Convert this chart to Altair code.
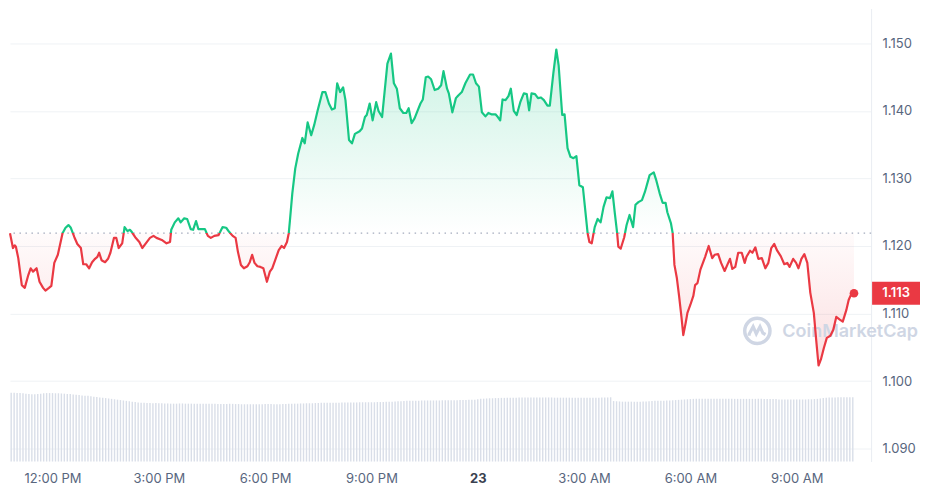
import altair as alt
import pandas as pd

# ---------------- data ----------------
# minutes after 10:48 AM on the 22nd
TIME_MIN = [
    0, 5, 8, 10, 14, 20, 25, 31, 35, 39, 45, 50, 56, 60, 66, 70, 75, 81, 89, 94,
    99, 103, 109, 114, 120, 124, 129, 134, 139, 144, 148, 151, 155, 161, 166, 170, 176, 180, 184, 190,
    194, 199, 203, 206, 212, 219, 224, 230, 237,
    243, 248, 257, 265, 271, 273, 279, 285, 289, 295, 300, 306, 310, 315, 319, 324, 330, 335, 340, 346,
    353, 360, 366, 371, 377, 382, 386, 391, 396, 402, 406, 410, 414, 419, 424, 429, 432, 435, 440, 444,
    449, 455, 460, 464, 469, 472,
    474, 478, 483, 488, 495, 499, 504, 510, 515, 521, 529, 534, 540, 545, 550, 554, 559, 564, 568, 574,
    579, 584, 592, 596, 601, 604, 609, 614, 620, 624, 630, 635, 639, 645, 650, 655, 660, 666, 671, 675,
    680, 685, 690, 695, 699, 704,
    708, 713, 719, 725, 730, 734, 740, 743, 749, 755, 759, 765, 771, 779, 784, 789, 794, 799, 805, 810,
    815, 822, 826, 830, 834, 839, 844, 848, 853, 858, 864, 870, 875, 879, 883, 889, 894, 899, 904, 910,
    914, 920, 925, 929, 935, 939, 944, 949, 954, 959, 964, 970,
    974, 978, 981, 985, 990, 995, 1000, 1005, 1010, 1016, 1020, 1024, 1028, 1030, 1034, 1040, 1044, 1049, 1055, 1059,
    1064, 1070, 1075, 1083, 1090, 1094, 1100, 1105, 1110, 1113, 1119, 1122, 1125, 1129, 1133, 1137, 1140, 1144, 1147, 1152,
    1157, 1160, 1164,
    1169, 1177, 1183, 1189, 1193, 1199, 1204, 1210, 1216, 1219, 1223, 1228, 1233, 1239, 1244, 1247, 1253, 1257, 1262, 1267,
    1273, 1279, 1284, 1289, 1294, 1299, 1305, 1311, 1316, 1320, 1326, 1331, 1335, 1340, 1345, 1350, 1355, 1361, 1365, 1369,
    1373, 1378, 1383, 1389, 1394, 1399, 1405, 1410, 1416, 1420, 1424, 1429,
]
PRICE = [
    1.1219, 1.1197, 1.1201, 1.1199, 1.1182, 1.1142, 1.1138, 1.1157, 1.1167, 1.1162, 1.1167, 1.1147, 1.1138, 1.1134, 1.1138, 1.1141, 1.1175, 1.1187, 1.1219, 1.1227,
    1.1231, 1.1227, 1.1213, 1.1203, 1.1197, 1.1173, 1.1173, 1.1167, 1.1176, 1.1181, 1.1184, 1.1190, 1.1179, 1.1176, 1.1181, 1.1190, 1.1212, 1.1212, 1.1197, 1.1204,
    1.1228, 1.1222, 1.1224, 1.1221, 1.1213, 1.1206, 1.1197, 1.1204, 1.1212,
    1.1215, 1.1212, 1.1209, 1.1204, 1.1206, 1.1224, 1.1235, 1.1241, 1.1235, 1.1241, 1.1240, 1.1225, 1.1224, 1.1237, 1.1225, 1.1225, 1.1225, 1.1215, 1.1212, 1.1215,
    1.1216, 1.1228, 1.1227, 1.1221, 1.1215, 1.1212, 1.1191, 1.1172, 1.1167, 1.1170, 1.1176, 1.1187, 1.1175, 1.1170, 1.1169, 1.1167, 1.1157, 1.1147, 1.1162, 1.1167,
    1.1179, 1.1194, 1.1200, 1.1197, 1.1206, 1.1219,
    1.1238, 1.1278, 1.1315, 1.1337, 1.1360, 1.1352, 1.1383, 1.1364, 1.1379, 1.1401, 1.1428, 1.1428, 1.1411, 1.1402, 1.1404, 1.1441, 1.1428, 1.1435, 1.1416, 1.1357,
    1.1352, 1.1366, 1.1370, 1.1374, 1.1391, 1.1394, 1.1411, 1.1386, 1.1413, 1.1400, 1.1391, 1.1435, 1.1470, 1.1485, 1.1441, 1.1433, 1.1404, 1.1397, 1.1397, 1.1404,
    1.1382, 1.1389, 1.1400, 1.1411, 1.1417, 1.1450,
    1.1451, 1.1447, 1.1431, 1.1433, 1.1438, 1.1459, 1.1433, 1.1426, 1.1398, 1.1419, 1.1423, 1.1428, 1.1441, 1.1454, 1.1454, 1.1441, 1.1436, 1.1398, 1.1392, 1.1397,
    1.1395, 1.1395, 1.1391, 1.1386, 1.1417, 1.1416, 1.1422, 1.1433, 1.1400, 1.1394, 1.1413, 1.1426, 1.1425, 1.1401, 1.1426, 1.1425, 1.1419, 1.1420, 1.1416, 1.1408,
    1.1408, 1.1456, 1.1491, 1.1467, 1.1394, 1.1395, 1.1345, 1.1332, 1.1330, 1.1333, 1.1290, 1.1287,
    1.1253, 1.1219, 1.1206, 1.1204, 1.1228, 1.1240, 1.1235, 1.1258, 1.1272, 1.1271, 1.1281, 1.1249, 1.1219, 1.1199, 1.1196, 1.1213, 1.1231, 1.1246, 1.1228, 1.1261,
    1.1265, 1.1268, 1.1280, 1.1305, 1.1309, 1.1298, 1.1278, 1.1264, 1.1264, 1.1250, 1.1234, 1.1219, 1.1172, 1.1153, 1.1125, 1.1094, 1.1068, 1.1086, 1.1101, 1.1113,
    1.1126, 1.1142, 1.1145,
    1.1165, 1.1184, 1.1200, 1.1182, 1.1187, 1.1188, 1.1175, 1.1163, 1.1175, 1.1181, 1.1166, 1.1169, 1.1190, 1.1190, 1.1175, 1.1184, 1.1193, 1.1190, 1.1198, 1.1181,
    1.1182, 1.1167, 1.1175, 1.1197, 1.1203, 1.1193, 1.1185, 1.1173, 1.1175, 1.1169, 1.1181, 1.1175, 1.1167, 1.1181, 1.1188, 1.1175, 1.1131, 1.1101, 1.1061, 1.1023,
    1.1032, 1.1049, 1.1064, 1.1067, 1.1076, 1.1095, 1.1091, 1.1088, 1.1105, 1.1120, 1.1128, 1.1130,
]
# 24h volume (millions), one bar every 5 minutes from 10:50 AM
VOLUME_M = [
    34.5, 34.5, 34.4, 34.3, 34.2, 34.0,
    33.8, 33.7, 33.7, 33.8, 34.0, 34.2,
    34.3, 34.3, 34.3, 34.2, 34.2, 34.1, 34.0, 33.9,
    33.8, 33.6, 33.5, 33.3, 33.1, 33.0, 32.9, 32.7, 32.5, 32.3, 32.1, 31.9, 31.8, 31.6, 31.4, 31.2,
    31.0, 30.8, 30.6, 30.4, 30.2, 30.0, 29.8, 29.6, 29.5, 29.4, 29.3,
    29.3, 29.2, 29.3, 29.2, 29.2, 29.1, 29.1, 29.0, 29.0, 29.0, 29.1, 29.1, 29.0, 29.0, 29.0, 28.9,
    28.9, 28.9, 29.0, 28.9, 28.9, 28.9,
    28.9, 28.8, 28.8, 28.8, 28.8, 28.9, 28.9, 28.8, 28.8, 28.7, 28.7, 28.7, 28.7, 28.7, 28.7, 28.7,
    28.7, 28.8, 28.8, 28.8, 28.7, 28.7, 28.7, 28.8, 28.8, 28.9, 28.9, 29.0, 29.0,
    29.1, 29.1, 29.2, 29.2, 29.2, 29.3, 29.3,
    29.4, 29.4, 29.4, 29.5, 29.5, 29.5, 29.5, 29.6, 29.6, 29.6, 29.6, 29.6, 29.6, 29.7, 29.7, 29.7,
    29.7, 29.7, 29.7, 29.8, 29.8, 29.8, 29.9,
    30.0, 30.0, 30.1, 30.2, 30.2,
    30.3, 30.4, 30.5, 30.5, 30.5, 30.5, 30.6, 30.6, 30.6, 30.6, 30.6, 30.6, 30.6, 30.7, 30.7, 30.7,
    30.7, 30.7, 30.7, 30.8, 30.8, 30.8, 30.9, 30.9, 31.0,
    31.2, 31.4, 31.5, 31.6, 31.7, 31.7, 31.8, 31.8, 31.9, 31.9,
    32.0, 32.0, 32.0, 32.0, 32.1, 32.1, 32.1, 32.1, 32.1, 32.1, 32.1, 32.1, 32.1, 32.1, 32.1, 32.1,
    32.0, 32.0, 32.0, 32.0, 32.0, 32.0, 31.9, 31.9, 31.9, 31.9, 31.9, 31.9, 32.0, 32.0, 32.0, 32.0,
    32.1, 32.1, 32.1, 32.2,
    30.3, 30.2, 30.1, 30.0, 30.0, 30.0, 30.0, 30.0, 30.0, 30.0, 30.1, 30.1, 30.2, 30.3,
    30.4, 30.5, 30.5, 30.5, 30.6, 30.6, 30.7, 30.8, 30.9, 31.0, 31.1, 31.2,
    31.3, 31.4, 31.4, 31.4, 31.4, 31.4, 31.4, 31.4, 31.4, 31.4, 31.4, 31.4, 31.4, 31.4, 31.4, 31.4,
    31.4, 31.4, 31.4, 31.4, 31.4, 31.4, 31.4, 31.4, 31.4, 31.3, 31.3, 31.3, 31.3, 31.3,
    31.1, 31.1, 31.1, 31.1, 31.1, 31.1, 31.1, 31.1, 31.1, 31.1, 31.2, 31.2, 31.3, 31.4, 31.6, 31.8,
    32.0, 32.1, 32.1, 32.1, 32.2, 32.2, 32.2, 32.2, 32.2, 32.2,
]
Y_TICKS = [1.090, 1.100, 1.110, 1.120, 1.130, 1.140, 1.150]
X_TICKS = [(22, 12), (22, 15), (22, 18), (22, 21), (23, 0), (23, 3), (23, 6), (23, 9)]

# ---------------- styling ----------------
GREEN = "#16c784"
RED = "#ea3943"
GRID = "#eff2f5"
LABEL = "#58667e"
WM = "#cfd6e4"
FONT = "Inter"
W, H = 863, 454

start = pd.Timestamp("2023-06-22 10:48")
df = pd.DataFrame({"t": start + pd.to_timedelta(TIME_MIN, unit="min"), "price": PRICE})
vol = pd.DataFrame({
    "t": pd.date_range("2023-06-22 10:50", periods=len(VOLUME_M), freq="5min"),
    "vol": VOLUME_M,
})
base = PRICE[0]
pmax, pmin = max(PRICE), min(PRICE)
f = (pmax - base) / (pmax - pmin)
last = df.tail(1).copy()
last["lo"] = last["price"] - 0.0017
last["hi"] = last["price"] + 0.0017

XDOM = [alt.DateTime(year=2023, month=6, date=22, hours=10, minutes=48),
        alt.DateTime(year=2023, month=6, date=23, hours=11, minutes=6)]
XVALS = [alt.DateTime(year=2023, month=6, date=d, hours=h) for d, h in X_TICKS]
is_mid = "hours(datum.value) == 0"
XAXIS = alt.Axis(
    values=XVALS, grid=False, domain=False, ticks=False, title=None,
    labelExpr=f"{is_mid} ? timeFormat(datum.value, '%-d') : timeFormat(datum.value, '%-I:%M %p')",
    labelFont=FONT, labelFontSize=13, labelPadding=11, labelOverlap=False, labelFlush=False,
    labelColor={"condition": {"test": is_mid, "value": "#3a4150"}, "value": LABEL},
    labelFontWeight={"condition": {"test": is_mid, "value": "bold"}, "value": "normal"},
)
XSCALE = alt.Scale(domain=XDOM)
YSCALE = alt.Scale(domain=[1.08808, 1.15517], nice=False, zero=False)
YAXIS = alt.Axis(
    orient="right", values=Y_TICKS, format=".3f", title=None, ticks=False,
    domain=True, domainColor="#e9edf2", gridColor=GRID, grid=True,
    labelFont=FONT, labelFontSize=13, labelColor=LABEL, labelPadding=11,
)


def xe():
    return alt.X("t:T", scale=XSCALE, axis=XAXIS)


def ye(field):
    return alt.Y(f"{field}:Q", scale=YSCALE, axis=YAXIS)


volume = alt.Chart(vol).mark_rule(color="#d9dee8", strokeWidth=1.4).encode(
    x=xe(),
    y=alt.Y("vol:Q", scale=alt.Scale(domain=[0, 227], nice=False), axis=None),
    y2=alt.datum(0),
)

area_grad = {
    "gradient": "linear", "x1": 0, "y1": 0, "x2": 0, "y2": 1,
    "stops": [
        {"offset": 0, "color": "rgba(22,199,132,0.22)"},
        {"offset": f, "color": "rgba(22,199,132,0.0)"},
        {"offset": f, "color": "rgba(234,57,67,0.02)"},
        {"offset": 1, "color": "rgba(234,57,67,0.16)"},
    ],
}
line_grad = {
    "gradient": "linear", "x1": 0, "y1": 0, "x2": 0, "y2": 1,
    "stops": [
        {"offset": 0, "color": GREEN},
        {"offset": f, "color": GREEN},
        {"offset": f, "color": RED},
        {"offset": 1, "color": RED},
    ],
}

area = alt.Chart(df).mark_area(fill=area_grad).encode(
    x=xe(), y=ye("price"), y2=alt.datum(base)
)
base_rule = alt.Chart(pd.DataFrame({"base": [base]})).mark_rule(
    color="#a3abbd", strokeDash=[1.5, 4.5], strokeWidth=1.3
).encode(y=ye("base"))

one = pd.DataFrame({"a": [0]})
wm_ring = alt.Chart(one).mark_point(
    shape="circle", size=640, filled=False, stroke=WM, strokeWidth=3.5, opacity=1
).encode(x=alt.value(749), y=alt.value(323))
wm_wave = alt.Chart(one).mark_point(
    shape="M-0.62,0.38 L-0.62,0.25 L-0.32,-0.32 L-0.08,0.22 L0.2,-0.32 L0.42,0.18 L0.62,0.28",
    size=700, filled=False, stroke=WM, strokeWidth=3.2, opacity=1,
).encode(x=alt.value(749), y=alt.value(323))
wm_text = alt.Chart(one).mark_text(
    text="CoinMarketCap", font=FONT, fontSize=18, fontWeight=600, color=WM,
    align="left", baseline="middle",
).encode(x=alt.value(774), y=alt.value(324))

line = alt.Chart(df).mark_line(stroke=line_grad, strokeWidth=2.2, strokeJoin="round").encode(
    x=xe(), y=ye("price")
)
dot = alt.Chart(last).mark_circle(size=75, color=RED, opacity=1).encode(x=xe(), y=ye("price"))
tag = alt.Chart(last).mark_rect(color=RED).encode(
    x=alt.value(864), x2=alt.value(912), y=ye("lo"), y2="hi:Q"
)
tag_text = alt.Chart(last).mark_text(
    color="white", font=FONT, fontSize=13, fontWeight=600, align="center", baseline="middle"
).encode(x=alt.value(888), y=ye("price"), text=alt.Text("price:Q", format=".3f"))

price_layers = alt.layer(area, base_rule, wm_ring, wm_wave, wm_text, line, dot, tag, tag_text)

chart = (
    alt.layer(volume, price_layers)
    .resolve_scale(y="independent")
    .properties(width=W, height=H, padding=0, background="white")
    .configure_view(stroke=None)
)

chart.save("out.html", embed_options={"renderer": "svg", "actions": False})
